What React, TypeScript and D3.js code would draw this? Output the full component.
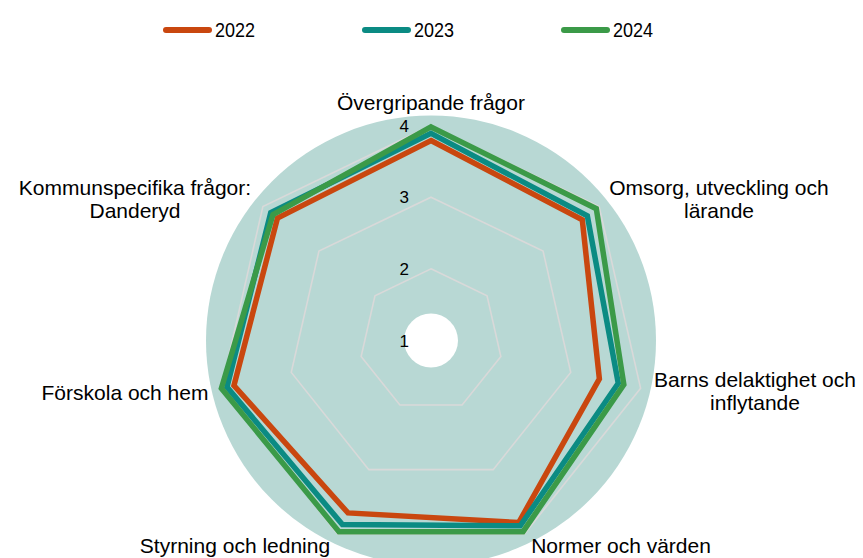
import React from "react";
import * as d3 from "d3";

const categories: string[][] = [
  ["Övergripande frågor"],
  ["Omsorg, utveckling och", "lärande"],
  ["Barns delaktighet och", "inflytande"],
  ["Normer och värden"],
  ["Styrning och ledning"],
  ["Förskola och hem"],
  ["Kommunspecifika frågor:", "Danderyd"],
];

const seriesNames = ["2022", "2023", "2024"];
const values2022 = [3.79, 3.7, 3.41, 3.82, 3.67, 3.82, 3.74];
const values2023 = [3.89, 3.79, 3.68, 3.87, 3.85, 3.92, 3.86];
const values2024 = [3.98, 3.95, 3.76, 3.96, 3.96, 4.0, 3.82];
const seriesValues = [values2022, values2023, values2024];
const tickValues = [1, 2, 3, 4];

const colors = ["#c9470f", "#0b8b83", "#3b9a48"];

// layout for category labels: [centerX, firstBaselineY]
const labelPos: [number, number][] = [
  [431, 110],
  [719, 195],
  [755, 387],
  [621, 553],
  [235, 553],
  [125, 400],
  [135, 195],
];

const W = 863;
const H = 558;
const cx = 431;
const cy = 340.5;
const FONT = "'Liberation Sans', Arial, Helvetica, sans-serif";

export default function App() {
  const n = categories.length;
  const r = d3.scaleLinear().domain([1, 4]).range([0, 215]);
  const angle = (i: number) => (i * 2 * Math.PI) / n;
  const radial = d3
    .lineRadial<number>()
    .angle((_, i) => angle(i))
    .radius((d) => r(d))
    .curve(d3.curveLinearClosed);

  const legendX = d3.scalePoint<string>().domain(seriesNames).range([163, 561]);

  return (
    <svg
      width={W}
      height={H}
      style={{ position: "absolute", left: 0, top: 0, background: "#fff" }}
      fontFamily={FONT}
    >
      {/* legend */}
      {seriesNames.map((s, i) => {
        const x = legendX(s)!;
        return (
          <g key={s}>
            <line
              x1={x + 3}
              x2={x + 46}
              y1={30}
              y2={30}
              stroke={colors[i]}
              strokeWidth={6}
              strokeLinecap="round"
            />
            <text
              x={x + 52}
              y={36.5}
              fontSize={21}
              fill="#000"
              textLength={40}
              lengthAdjust="spacingAndGlyphs"
            >
              {s}
            </text>
          </g>
        );
      })}

      <g transform={`translate(${cx},${cy})`}>
        <circle r={225} fill="#b8d8d4" />
        <circle r={27} fill="#fff" />
        {tickValues.slice(1).map((t) => (
          <path
            key={t}
            d={radial(categories.map(() => t)) || ""}
            fill="none"
            stroke="#d9d9d9"
            strokeWidth={1.6}
          />
        ))}
        {seriesValues.map((vals, i) => (
          <path
            key={seriesNames[i]}
            d={radial(vals) || ""}
            fill="none"
            stroke={colors[i]}
            strokeWidth={5.5}
            strokeLinejoin="miter"
          />
        ))}
        {tickValues.map((t) => (
          <text
            key={t}
            x={-22}
            y={-r(t) + 6}
            fontSize={17}
            textAnchor="end"
            fill="#000"
          >
            {t}
          </text>
        ))}
      </g>

      {categories.map((lines, i) => (
        <text
          key={i}
          x={labelPos[i][0]}
          y={labelPos[i][1]}
          fontSize={21}
          textAnchor="middle"
          fill="#000"
        >
          {lines.map((l, j) => (
            <tspan key={j} x={labelPos[i][0]} dy={j === 0 ? 0 : 23}>
              {l}
            </tspan>
          ))}
        </text>
      ))}
    </svg>
  );
}
